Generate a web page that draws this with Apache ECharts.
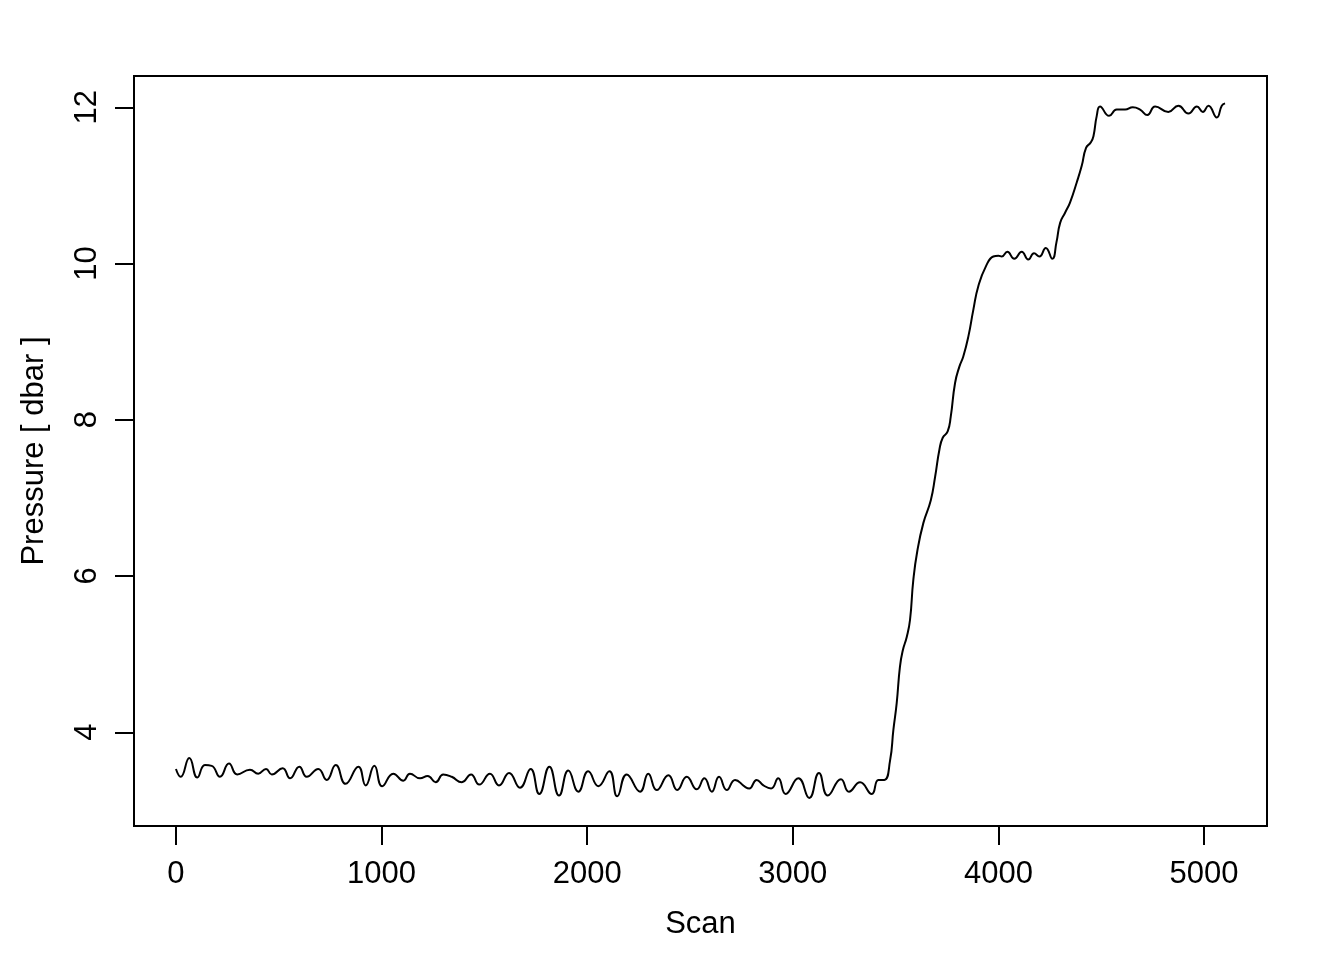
<!DOCTYPE html>
<html>
<head>
<meta charset="utf-8">
<script src="https://cdn.jsdelivr.net/npm/echarts@6/dist/echarts.min.js"></script>
<style>
html,body{margin:0;padding:0;background:#fff;}
#chart{width:1344px;height:960px;}
</style>
</head>
<body>
<div id="chart"></div>
<script>
// Scan numbers
const scan = [
  0, 23, 65, 104, 141, 174, 214, 258, 298, 360, 400, 438, 466, 519, 555, 600, 636, 692, 733, 777,
  825, 887, 923, 965, 1003, 1057, 1106, 1138, 1187, 1224, 1263, 1300, 1341, 1390, 1435, 1475, 1527, 1571, 1620, 1673,
  1725, 1767, 1816, 1863, 1908, 1957, 2005, 2054, 2108, 2146, 2192, 2257, 2297, 2338, 2395, 2438, 2484, 2533, 2570, 2606,
  2641, 2679, 2719, 2768, 2788, 2824, 2857, 2894, 2929, 2965, 3027, 3080, 3127, 3170, 3234, 3273, 3327, 3384, 3416, 3445,
  3473, 3489, 3505, 3521, 3535, 3554, 3570, 3586, 3606, 3635, 3671, 3692, 3713, 3729, 3753, 3768, 3789, 3810, 3829, 3854,
  3878, 3902, 3940, 3975, 4000, 4016, 4043, 4077, 4113, 4145, 4173, 4199, 4230, 4262, 4282, 4300, 4324, 4348, 4381, 4405,
  4426, 4449, 4462, 4478, 4494, 4538, 4575, 4616, 4653, 4689, 4724, 4762, 4826, 4875, 4924, 4965, 4994, 5021, 5062, 5086, 5102
];
// Pressure [dbar]
const pressure = [
  3.53, 3.43, 3.67, 3.42, 3.58, 3.57, 3.43, 3.60, 3.46, 3.52, 3.47, 3.53, 3.46, 3.54, 3.41, 3.56, 3.43, 3.53, 3.39, 3.58,
  3.34, 3.56, 3.32, 3.57, 3.31, 3.47, 3.38, 3.47, 3.41, 3.44, 3.36, 3.46, 3.43, 3.36, 3.46, 3.33, 3.47, 3.32, 3.48, 3.29,
  3.53, 3.21, 3.56, 3.19, 3.51, 3.24, 3.50, 3.31, 3.50, 3.18, 3.46, 3.24, 3.47, 3.26, 3.45, 3.26, 3.43, 3.27, 3.41, 3.24,
  3.43, 3.26, 3.39, 3.30, 3.28, 3.39, 3.32, 3.28, 3.41, 3.21, 3.41, 3.16, 3.48, 3.19, 3.40, 3.24, 3.36, 3.21, 3.39, 3.39,
  3.64, 4.03, 4.37, 4.84, 5.05, 5.22, 5.44, 5.95, 6.33, 6.68, 6.97, 7.27, 7.62, 7.77, 7.85, 8.04, 8.47, 8.68, 8.81, 9.07,
  9.41, 9.71, 9.97, 10.09, 10.10, 10.09, 10.15, 10.06, 10.15, 10.05, 10.13, 10.09, 10.20, 10.06, 10.27, 10.52, 10.65, 10.78, 11.04, 11.25,
  11.48, 11.55, 11.63, 11.89, 12.01, 11.89, 11.97, 11.97, 12.00, 11.97, 11.90, 12.01, 11.94, 12.02, 11.92, 12.01, 11.94, 12.02, 11.87, 12.02, 12.05
];
const xTicks = [0, 1000, 2000, 3000, 4000, 5000];
const yTicks = [4, 6, 8, 10, 12];

const seriesData = scan.map((s, i) => [s, pressure[i]]);
const font = '"Liberation Sans", Arial, Helvetica, sans-serif';

const chart = echarts.init(document.getElementById('chart'), null, {renderer: 'canvas'});
chart.setOption({
  animation: false,
  backgroundColor: '#ffffff',
  grid: {
    left: 134, right: 77, top: 76, bottom: 134,
    show: true, borderColor: '#000', borderWidth: 2, backgroundColor: 'transparent'
  },
  xAxis: {
    type: 'value',
    min: -204, max: 5306,
    name: 'Scan',
    nameLocation: 'middle',
    nameGap: 83,
    nameTextStyle: {color: '#000', fontSize: 31, fontFamily: font},
    axisLine: {show: false, onZero: false},
    axisTick: {show: true, customValues: xTicks, length: 19, inside: false, lineStyle: {color: '#000', width: 2}},
    axisLabel: {show: true, customValues: xTicks, margin: 33, color: '#000', fontSize: 31, fontFamily: font,
      formatter: v => String(v)},
    splitLine: {show: false}
  },
  yAxis: {
    type: 'value',
    min: 2.8, max: 12.4,
    name: 'Pressure [ dbar ]',
    nameLocation: 'middle',
    nameGap: 84,
    nameTextStyle: {color: '#000', fontSize: 31, fontFamily: font},
    axisLine: {show: false, onZero: false},
    axisTick: {show: true, customValues: yTicks, length: 19, inside: false, lineStyle: {color: '#000', width: 2}},
    axisLabel: {show: true, customValues: yTicks, rotate: 90, margin: 31, color: '#000', fontSize: 31, fontFamily: font,
      formatter: v => String(v)},
    splitLine: {show: false}
  },
  series: [{
    type: 'line',
    data: seriesData,
    smooth: 0.5,
    showSymbol: false,
    symbol: 'none',
    lineStyle: {color: '#000', width: 2},
    clip: true
  }]
});
</script>
</body>
</html>
